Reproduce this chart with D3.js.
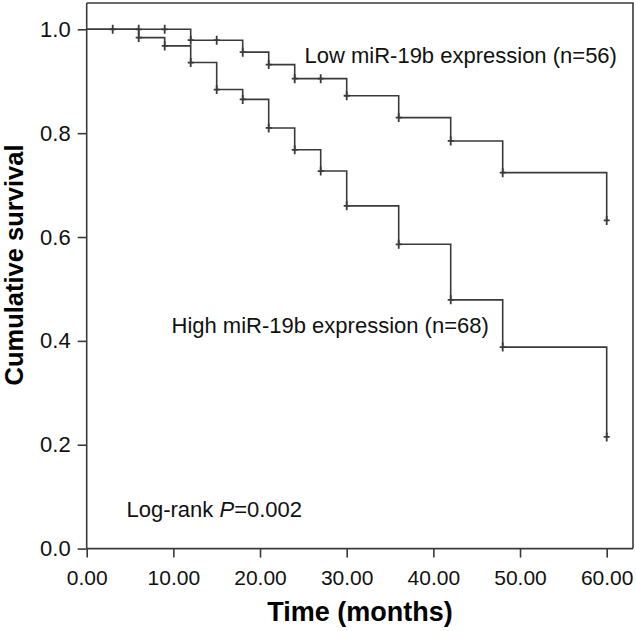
<!DOCTYPE html>
<html>
<head>
<meta charset="utf-8">
<script src="https://cdn.jsdelivr.net/npm/d3@7"></script>
<style>
  html, body { margin: 0; padding: 0; background: #fff; }
  svg { display: block; font-family: "Liberation Sans", Arial, Helvetica, sans-serif; }
</style>
</head>
<body>
<svg id="chart" width="636" height="631"></svg>
<script>
// ---- data ----
const xTicks = [0, 10, 20, 30, 40, 50, 60];
const yTicks = [0, 0.2, 0.4, 0.6, 0.8, 1.0];

const lowTimes = [0, 12, 18, 21, 24, 30, 36, 42, 48, 60];
const lowSurv  = [1.0, 0.979, 0.956, 0.932, 0.905, 0.872, 0.830, 0.785, 0.724, 0.632];
const lowCensored = [3, 6, 9, 12, 15, 18, 21, 24, 27, 30, 36, 42, 48, 60];

const highTimes = [0, 6, 9, 12, 15, 18, 21, 24, 27, 30, 36, 42, 48, 60];
const highSurv  = [1.0, 0.984, 0.968, 0.936, 0.884, 0.865, 0.810, 0.768, 0.727, 0.660, 0.586, 0.479, 0.388, 0.215];
const highCensored = [6, 9, 12, 15, 18, 21, 24, 27, 30, 36, 42, 48, 60];

const labels = {
  low: "Low miR-19b expression (n=56)",
  high: "High miR-19b expression (n=68)",
  xTitle: "Time (months)",
  yTitle: "Cumulative survival"
};

(function () {
// ---- layout ----
const svg = d3.select("#chart");
const pLeft = 86.7, pRight = 606.7, pTop = 29.3, pBottom = 548.6;
const frameRight = 633, frameTop = 3;
const ink = "#3a3a3a";

const x = d3.scaleLinear().domain([0, 60]).range([pLeft, pRight]);
const y = d3.scaleLinear().domain([0, 1]).range([pBottom, pTop]);

// frame top/right
svg.append("path")
  .attr("d", `M${pLeft},${frameTop}H${frameRight}V${pBottom}`)
  .attr("fill", "none").attr("stroke", ink).attr("stroke-width", 1.6);

// axes
const xAxis = svg.append("g").attr("transform", `translate(0,${pBottom})`)
  .call(d3.axisBottom(x).tickValues(xTicks).tickFormat(d3.format(".2f")).tickSize(9).tickSizeOuter(0).tickPadding(7));
const yAxis = svg.append("g").attr("transform", `translate(${pLeft},0)`)
  .call(d3.axisLeft(y).tickValues(yTicks).tickFormat(d3.format(".1f")).tickSize(9).tickSizeOuter(0).tickPadding(7));

xAxis.select(".domain").attr("d", `M${pLeft},0H${frameRight}`);
yAxis.select(".domain").attr("d", `M0,${frameTop}V${pBottom}`);
[xAxis, yAxis].forEach(g => {
  g.selectAll(".domain, .tick line").attr("stroke", ink).attr("stroke-width", 1.6);
  g.selectAll(".tick text").attr("fill", "#111").style("font-size", "21px");
});
yAxis.selectAll(".tick text").style("font-size", "22px");
xAxis.selectAll(".tick text").attr("dy", "0.95em");

// curves
function series(times, surv) { return times.map((t, i) => [t, surv[i]]); }
function survAt(times, surv, t) {
  let v = surv[0];
  for (let i = 0; i < times.length; i++) if (times[i] <= t) v = surv[i];
  return v;
}
const line = d3.line().x(d => x(d[0])).y(d => y(d[1])).curve(d3.curveStepAfter);

const groups = [
  { times: lowTimes, surv: lowSurv, cens: lowCensored },
  { times: highTimes, surv: highSurv, cens: highCensored }
];
groups.forEach(g => {
  svg.append("path").datum(series(g.times, g.surv))
    .attr("d", line).attr("fill", "none").attr("stroke", ink).attr("stroke-width", 1.6);
  svg.append("g").selectAll("path").data(g.cens).join("path")
    .attr("d", t => {
      const cx = x(t), cy = y(survAt(g.times, g.surv, t));
      return `M${cx},${cy - 4.5}V${cy + 4.5}M${cx - 3},${cy}H${cx + 3}`;
    })
    .attr("stroke", ink).attr("stroke-width", 1.8).attr("fill", "none");
});

// annotations
svg.append("text").attr("x", 304.5).attr("y", 63).attr("fill", "#111")
  .style("font-size", "22px").text(labels.low);
svg.append("text").attr("x", 171.5).attr("y", 332.5).attr("fill", "#111")
  .style("font-size", "22px").text(labels.high);
const lr = svg.append("text").attr("x", 126.5).attr("y", 516.5).attr("fill", "#111").style("font-size", "22px");
lr.append("tspan").text("Log-rank ");
lr.append("tspan").style("font-style", "italic").text("P");
lr.append("tspan").text("=0.002");

// axis titles
svg.append("text").attr("x", 360).attr("y", 620.5).attr("text-anchor", "middle")
  .attr("fill", "#000").style("font-size", "27px").style("font-weight", "bold").text(labels.xTitle);
svg.append("text").attr("transform", "translate(23,265) rotate(-90)").attr("text-anchor", "middle")
  .attr("fill", "#000").style("font-size", "25.5px").style("font-weight", "bold").text(labels.yTitle);
})();
</script>
</body>
</html>
